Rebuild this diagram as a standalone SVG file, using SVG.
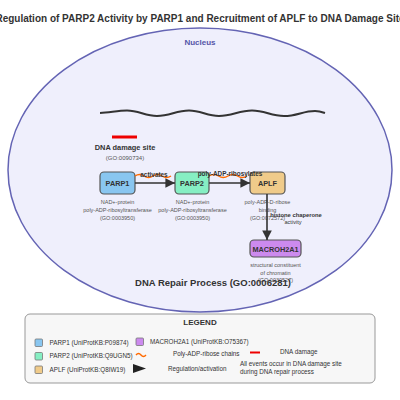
<svg xmlns="http://www.w3.org/2000/svg" width="400" height="400" viewBox="0 0 400 400">
<style>
text{font-family:"Liberation Sans",Arial,sans-serif;}
.node{stroke:#555;stroke-width:1.2;}
.nl{font-size:7.3px;font-weight:bold;fill:#333;text-anchor:middle;}
.sub{font-size:5.5px;fill:#555;text-anchor:middle;}
.el{font-size:6.4px;font-weight:bold;fill:#333;text-anchor:middle;}
.lg{font-size:6.3px;fill:#333;}
.conn{stroke:#333;stroke-width:1.6;fill:none;}
.par{stroke:#ff6a00;stroke-width:1.4;fill:none;}
.sw{stroke:#777;stroke-width:0.8;}
</style>
<defs>
<marker id="ah" viewBox="0 0 10 10" refX="10" refY="5" markerWidth="7" markerHeight="6" markerUnits="strokeWidth" orient="auto">
<path d="M0,0 L10,5 L0,10 z" fill="#333"/>
</marker>
</defs>
<rect width="400" height="400" fill="#fff"/>
<text x="200" y="22" font-size="10" font-weight="bold" fill="#333" text-anchor="middle">Regulation of PARP2 Activity by PARP1 and Recruitment of APLF to DNA Damage Site</text>
<g id="nucleus">
<ellipse cx="200" cy="170" rx="192" ry="142" fill="#efeffc" stroke="#6464b4" stroke-width="1.5"/>
<text x="200" y="45" font-size="8" font-weight="bold" fill="#5555a8" text-anchor="middle">Nucleus</text>
</g>
<g id="dna">
<path d="M100,113 C110,112.5 118,110.5 127,110.5 C139,110.5 145,116 157,116 C170,116 176,110.5 189,110.5 C201,110.5 207,116 219,116 C232,116 239,110.5 252,110.5 C265,110.5 271,116 284,116 C297,116 303,111 315,111 C319,111 322,112 325,113" stroke="#333" stroke-width="2" fill="none"/>
</g>
<g id="damage-site">
<line x1="112" y1="137" x2="137" y2="137" stroke="#e00" stroke-width="3"/>
<text x="125" y="150" font-size="7.4" font-weight="bold" fill="#333" text-anchor="middle">DNA damage site</text>
<text x="125" y="160" font-size="6" fill="#555" text-anchor="middle">(GO:0090734)</text>
</g>
<g id="PARP1">
<rect class="node" x="100" y="172" width="35" height="22" rx="4" fill="#89c6f0"/>
<text class="nl" x="117.5" y="186">PARP1</text>
<text class="sub" x="117.5" y="204">NAD+-protein</text>
<text class="sub" x="117.5" y="212">poly-ADP-ribosyltransferase</text>
<text class="sub" x="117.5" y="220">(GO:0003950)</text>
</g>
<g id="PARP2">
<rect class="node" x="175" y="172" width="34" height="22" rx="4" fill="#86efc3"/>
<text class="nl" x="192" y="186">PARP2</text>
<text class="sub" x="192.5" y="204">NAD+-protein</text>
<text class="sub" x="192.5" y="212">poly-ADP-ribosyltransferase</text>
<text class="sub" x="192.5" y="220">(GO:0003950)</text>
</g>
<g id="APLF">
<rect class="node" x="250" y="172" width="35" height="22" rx="4" fill="#f0cb8a"/>
<text class="nl" x="267.5" y="186">APLF</text>
<text class="sub" x="267.5" y="204">poly-ADP-D-ribose</text>
<text class="sub" x="267.5" y="212">binding</text>
<text class="sub" x="267.5" y="220">(GO:0072572)</text>
</g>
<g id="MACROH2A1">
<rect class="node" x="250" y="240" width="51" height="17" rx="4" fill="#cc8aee"/>
<text class="nl" x="275.5" y="251.5">MACROH2A1</text>
<text class="sub" x="275.5" y="267">structural constituent</text>
<text class="sub" x="275.5" y="274.5">of chromatin</text>
<text class="sub" x="275.5" y="282">(GO:0030527)</text>
</g>
<g id="connectors">
<line class="conn" x1="135" y1="183" x2="175" y2="183" marker-end="url(#ah)"/>
<path class="par" d="M135,176 q4.5,-3 9,0 t9,0 t9,0 t9,0"/>
<text class="el" x="154" y="177">activates</text>
<line class="conn" x1="209" y1="183" x2="250" y2="183" marker-end="url(#ah)"/>
<path class="par" d="M209,176 q4.75,-3 9.5,0 t9.5,0 t9.5,0 t9.5,0"/>
<text class="el" x="230" y="176">poly-ADP-ribosylates</text>
<line class="conn" x1="267" y1="194" x2="267" y2="240" marker-end="url(#ah)"/>
<text x="296" y="216.5" font-size="5.8" font-weight="bold" fill="#333" text-anchor="middle">histone chaperone</text>
<text x="293" y="224" font-size="5.6" fill="#333" text-anchor="middle">activity</text>
</g>
<g id="process">
<text x="213" y="286" font-size="9.5" font-weight="bold" fill="#333" text-anchor="middle">DNA Repair Process (GO:0006281)</text>
</g>
<g id="legend">
<rect x="25" y="314" width="350" height="69" rx="5" fill="#f7f7f7" stroke="#999" stroke-width="1"/>
<text x="200" y="325" font-size="8" font-weight="bold" fill="#333" text-anchor="middle">LEGEND</text>
<rect class="sw" x="35" y="339" width="7.5" height="7.5" rx="1" fill="#89c6f0"/>
<text class="lg" x="49.5" y="344.5">PARP1 (UniProtKB:P09874)</text>
<rect class="sw" x="136" y="338" width="7.5" height="7.5" rx="1" fill="#cc8aee"/>
<text class="lg" x="150" y="343.5">MACROH2A1 (UniProtKB:O75367)</text>
<rect class="sw" x="35" y="352.5" width="7.5" height="7.5" rx="1" fill="#86efc3"/>
<text class="lg" x="49.5" y="358">PARP2 (UniProtKB:Q9UGN5)</text>
<path class="par" d="M136,355 q2.5,-3 5,0 t5,0"/>
<text class="lg" x="173" y="356">Poly-ADP-ribose chains</text>
<line x1="250" y1="352.5" x2="260" y2="352.5" stroke="#e00" stroke-width="2"/>
<text class="lg" x="280" y="353.5">DNA damage</text>
<rect class="sw" x="35" y="366" width="7.5" height="7.5" rx="1" fill="#f0cb8a"/>
<text class="lg" x="49.5" y="372">APLF (UniProtKB:Q8IW19)</text>
<path d="M133,364 L146,368.5 L133,373 z" fill="#222"/>
<text class="lg" x="168" y="370.5">Regulation/activation</text>
<text class="lg" x="240" y="365.5">All events occur in DNA damage site</text>
<text class="lg" x="240" y="373.5">during DNA repair process</text>
</g>
</svg>
